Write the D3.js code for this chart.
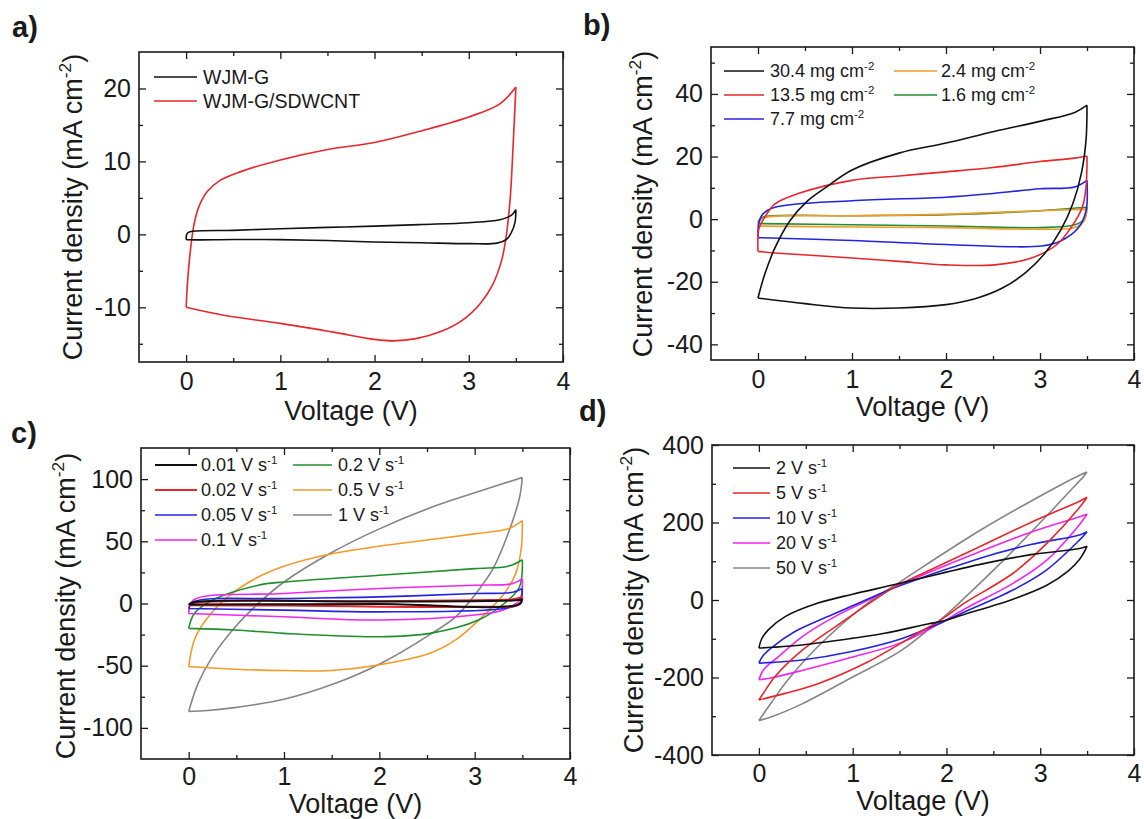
<!DOCTYPE html>
<html>
<head>
<meta charset="utf-8">
<script src="https://cdn.jsdelivr.net/npm/d3@7"></script>
<style>
  body { margin: 0; background: #fff; }
  svg { display: block; }
  text { font-family: "Liberation Sans", Arial, sans-serif; fill: #1a1a1a; }
</style>
</head>
<body>
<svg id="fig" width="1144" height="819"></svg>
<script>
// ---------- data: cyclic voltammograms, [voltage (V), current density (mA cm^-2)] ----------
// Each loop starts at 0 V, sweeps up to 3.5 V and comes back to 0 V.

// (a) electrode comparison
const wjmG = [[0,-0.7],[0.01,0.1],[0.04,0.35],[0.5,0.55],[1,0.77],[1.5,0.95],[2,1.13],[2.5,1.35],[3,1.6],[3.33,2.0],[3.45,2.6],[3.5,3.4],
  [3.49,1.6],[3.45,0.2],[3.4,-0.7],[3.3,-1.2],[3,-1.27],[2.5,-1.15],[2,-1.04],[1.5,-0.85],[1,-0.72],[0.5,-0.7],[0.03,-0.75],[0,-0.7]];
const wjmGSdwcnt = [[0,-10],[0.025,-4.9],[0.08,1.1],[0.13,3.6],[0.22,5.8],[0.36,7.4],[0.58,8.6],[1,10.2],[1.49,11.6],[2,12.6],[2.47,14.1],[3,16.1],[3.33,17.9],[3.5,20.2],
  [3.47,12],[3.44,5],[3.4,0],[3.35,-3.5],[3.25,-7],[3.12,-9.5],[2.93,-11.8],[2.71,-13.3],[2.44,-14.3],[2.2,-14.6],[2,-14.4],[1.56,-13.4],[1,-12.2],[0.4,-11.1],[0,-10]];

// (b) mass loading
const load304 = [[0,-25.2],[0.07,-17.8],[0.18,-9.2],[0.34,-0.5],[0.53,5.9],[0.73,10.3],[1,15.7],[1.5,21.1],[2,24.3],[2.52,28.1],[3.02,31.4],[3.37,34.1],[3.5,36.4],
  [3.49,25.4],[3.44,14.6],[3.35,5],[3.22,-3.5],[3.05,-11],[2.85,-17],[2.6,-22],[2.3,-25.5],[2,-27.3],[1.5,-28.4],[1,-28.4],[0.5,-27],[0,-25.2]];
const load135 = [[0,-10.3],[0.01,-3],[0.07,0.5],[0.18,4.9],[0.42,8.1],[1,12.4],[1.5,13.8],[2,15.1],[2.5,16.5],[3,18.4],[3.37,19.5],[3.5,20.2],
  [3.49,10.3],[3.45,3.8],[3.33,-2.7],[3.18,-8.1],[2.91,-12.4],[2.52,-14.6],[2,-14.6],[1.5,-13.5],[1,-12.4],[0.18,-10.8],[0,-10.3]];
const load77 = [[0,-5.9],[0.01,-1],[0.05,1.6],[0.18,3.8],[1,5.9],[2,7],[2.5,8.2],[3,9.7],[3.37,10.3],[3.5,12.4],
  [3.49,2.7],[3.41,-2.7],[3.22,-7],[3.02,-8.6],[2,-8.1],[1,-6.8],[0,-5.9]];
const load24 = [[0,-2.2],[0.02,-0.5],[0.07,0.5],[1,1.1],[2,1.6],[3,2.7],[3.5,3.2],
  [3.47,-0.5],[3.37,-2.7],[3,-3.2],[2,-2.7],[1,-2.5],[0,-2.2]];
const load16 = [[0,-1.4],[0.02,0],[0.07,0.8],[1,1.1],[2,1.4],[3,2.7],[3.5,3.8],
  [3.47,0],[3.37,-1.8],[3,-2.7],[2,-2.2],[1,-1.8],[0,-1.4]];

// (c) slow scan rates
const scan001 = [[0,-0.8],[0.05,1],[2,1.6],[3.4,2.5],[3.5,3.5],[3.47,-0.5],[2,-0.5],[0,-0.8]];
const scan002 = [[0,-1.5],[0.05,0.5],[2,1.9],[3,2.7],[3.4,3.5],[3.5,5.3],[3.47,-0.5],[3,-2.7],[1,-1.6],[0,-1.5]];
const scan005 = [[0,-4],[0.05,1.3],[1,4],[2,5.3],[3,8],[3.4,9],[3.5,12],[3.47,0],[3.3,-4],[2,-6.7],[1,-5.3],[0,-4]];
const scan01 = [[0,-8],[0.05,2.7],[1,8],[2,12],[3,14.7],[3.4,16],[3.5,20],[3.47,2.7],[3.3,-5.3],[3,-9.3],[2,-13.3],[1,-10.7],[0,-8]];
const scan02 = [[0,-20],[0.06,-8],[0.25,2.7],[0.73,14.7],[1,17.3],[2,22.7],[3,28],[3.35,30],[3.5,35.2],
  [3.47,13.3],[3.31,0],[3.04,-13.3],[2.53,-24],[2,-26.7],[1,-24],[0.49,-21.3],[0,-20]];
const scan05 = [[0,-50.7],[0.06,-29.3],[0.18,-13.3],[0.41,5.3],[0.73,21.3],[1,30],[1.5,40],[2,46],[2.5,51],[3,56],[3.35,60],[3.5,66.7],
  [3.49,45],[3.43,24],[3.31,8],[3.08,-10.7],[2.8,-29.3],[2.53,-40],[2,-49.3],[1.5,-53.9],[1,-53.9],[0.49,-52.8],[0,-50.7]];
const scan1 = [[0,-86.7],[0.1,-64],[0.25,-42.7],[0.49,-18.7],[0.73,0],[1,17.3],[1.5,41],[2,60],[2.5,76],[3,89],[3.5,101.3],
  [3.47,85],[3.35,56],[3.2,29],[3.04,10.7],[2.8,-10.7],[2.53,-25],[2.02,-48],[1.51,-65],[1,-77],[0.5,-83.5],[0.2,-86],[0,-86.7]];

// (d) fast scan rates
const scan2 = [[0,-124],[0.03,-100],[0.1,-77],[0.28,-43],[0.63,-8],[1,15],[1.45,40],[2,72],[2.36,92],[2.9,117],[3.42,133],[3.5,139],
  [3.46,120],[3.42,105],[3.3,75],[3.07,38],[2.71,2],[2.18,-38],[1.95,-55],[1.8,-62],[1.34,-86],[0.99,-99],[0.46,-116],[0.15,-122],[0,-124]];
const scan5 = [[0,-258],[0.05,-240],[0.17,-198],[0.46,-130],[0.81,-70],[1.2,-5],[1.45,34],[1.82,77],[2.36,138],[2.9,200],[3.42,255],[3.5,265],
  [3.44,245],[3.07,146],[2.71,69],[2.18,-10],[1.95,-50],[1.7,-85],[1.16,-160],[0.63,-216],[0.28,-241],[0,-258]];
const scan10 = [[0,-163],[0.04,-145],[0.13,-124],[0.38,-82],[0.81,-35],[1.17,3],[1.45,32],[2.36,108],[2.9,143],[3.42,168],[3.5,176],
  [3.42,155],[3.07,78],[2.71,26],[2.18,-32],[1.95,-58],[1.52,-100],[0.99,-133],[0.46,-155],[0.15,-161],[0,-163]];
const scan20 = [[0,-206],[0.05,-180],[0.21,-146],[0.46,-95],[0.81,-43],[1.24,8],[1.45,33],[2.36,125],[2.9,175],[3.42,215],[3.5,222],
  [3.42,195],[3.07,103],[2.71,43],[2.18,-25],[1.95,-58],[1.52,-110],[0.99,-148],[0.46,-182],[0.15,-200],[0,-206]];
const scan50 = [[0,-311],[0.13,-266],[0.31,-206],[0.63,-120],[1.16,-8],[1.45,38],[1.65,70],[2.36,180],[2.9,255],[3.42,322],[3.5,330],
  [3.46,318],[3.39,300],[3.1,225],[2.64,110],[2.3,30],[2,-38],[1.88,-62],[1.52,-130],[0.99,-200],[0.46,-268],[0.15,-300],[0,-311]];

// ---------- labels and ticks ----------
const legendA = ["WJM-G", "WJM-G/SDWCNT"];
const legendB = ["30.4", "13.5", "7.7", "2.4", "1.6"];      // mg cm^-2
const legendC = ["0.01", "0.02", "0.05", "0.1", "0.2", "0.5", "1"]; // V s^-1
const legendD = ["2", "5", "10", "20", "50"];                 // V s^-1

const voltTicks = [0, 1, 2, 3, 4];
const voltMinor = [0.5, 1.5, 2.5, 3.5];
const yTicksA = [-10, 0, 10, 20],        yMinorA = [-15, -5, 5, 15];
const yTicksB = [-40, -20, 0, 20, 40],   yMinorB = [-30, -10, 10, 30, 50];
const yTicksC = [-100, -50, 0, 50, 100], yMinorC = [-75, -25, 25, 75];
const yTicksD = [-400, -200, 0, 200, 400], yMinorD = [-300, -100, 100, 300];

// ---------- styling ----------
const C = {
  black: "#111111", red: "#e8262b", blue: "#2424e0", magenta: "#f026f0",
  green: "#1f8f2f", orange: "#f39a2a", grey: "#858585"
};
const TICK_FS = 25, TITLE_FS = 27, TAG_FS = 29;

const svg = d3.select("#fig");

// text with an optional superscript part and trailing part
function label(g, x, y, parts, fs, opts = {}) {
  const rot = opts.rotate ? " rotate(-90)" : "";
  const t = g.append("text")
    .attr("transform", `translate(${x},${y})${rot}`)
    .attr("font-size", fs)
    .attr("text-anchor", opts.anchor || "start")
    .attr("dy", opts.dy || "0.35em");
  if (opts.bold) t.attr("font-weight", "bold");
  const sup = fs * 0.64, lift = fs * 0.42;
  parts.forEach((p, i) => {
    const s = t.append("tspan").text(p.t);
    if (p.sup) s.attr("font-size", sup).attr("dy", -lift);
    else if (i > 0 && parts[i - 1].sup) s.attr("dy", lift);
  });
  return t;
}

function drawPanel(cfg) {
  const g = svg.append("g");
  const x = d3.scaleLinear().domain([-0.5, 4]).range([cfg.left, cfg.right]);
  const y = d3.scaleLinear().domain(cfg.yDomain).range([cfg.bottom, cfg.top]);

  const clipId = "clip-" + cfg.tag;
  g.append("clipPath").attr("id", clipId).append("rect")
    .attr("x", cfg.left).attr("y", cfg.top)
    .attr("width", cfg.right - cfg.left).attr("height", cfg.bottom - cfg.top);

  // loops: forward sweep and reverse sweep drawn as separate smooth pieces
  const line = d3.line().x(d => x(d[0])).y(d => y(d[1])).curve(d3.curveCatmullRom.alpha(0.5));
  const curves = g.append("g").attr("clip-path", `url(#${clipId})`);
  cfg.series.slice().reverse().forEach(s => {
    const k = d3.maxIndex(s.data, d => d[0]);
    const dPath = line(s.data.slice(0, k + 1)) + line(s.data.slice(k));
    curves.append("path").attr("d", dPath)
      .attr("fill", "none").attr("stroke", s.color)
      .attr("stroke-width", s.w || 1.6).attr("stroke-linejoin", "round");
  });

  // ticks on all four sides, pointing inward
  const styleAxis = sel => {
    sel.select(".domain").remove();
    sel.attr("font-size", null).attr("font-family", null);
    sel.selectAll(".tick line").attr("stroke", "#1a1a1a").attr("stroke-width", 1.3);
  };
  const noLab = () => "";
  const bottom = g.append("g").attr("transform", `translate(0,${cfg.bottom})`);
  bottom.append("g").call(d3.axisBottom(x).tickValues(voltTicks).tickSize(-7).tickPadding(cfg.xPad).tickFormat(d => String(d))).call(styleAxis);
  bottom.append("g").call(d3.axisBottom(x).tickValues(voltMinor).tickSize(-4).tickFormat(noLab)).call(styleAxis);
  const top = g.append("g").attr("transform", `translate(0,${cfg.top})`);
  top.append("g").call(d3.axisTop(x).tickValues(voltTicks).tickSize(-7).tickFormat(noLab)).call(styleAxis);
  top.append("g").call(d3.axisTop(x).tickValues(voltMinor).tickSize(-4).tickFormat(noLab)).call(styleAxis);
  const left = g.append("g").attr("transform", `translate(${cfg.left},0)`);
  left.append("g").call(d3.axisLeft(y).tickValues(cfg.yTicks).tickSize(-7).tickPadding(8).tickFormat(d => String(d))).call(styleAxis);
  left.append("g").call(d3.axisLeft(y).tickValues(cfg.yMinor).tickSize(-4).tickFormat(noLab)).call(styleAxis);
  const right = g.append("g").attr("transform", `translate(${cfg.right},0)`);
  right.append("g").call(d3.axisRight(y).tickValues(cfg.yTicks).tickSize(-7).tickFormat(noLab)).call(styleAxis);
  right.append("g").call(d3.axisRight(y).tickValues(cfg.yMinor).tickSize(-4).tickFormat(noLab)).call(styleAxis);

  g.selectAll(".tick text").attr("font-size", TICK_FS).attr("fill", "#1a1a1a");

  // frame
  g.append("rect").attr("x", cfg.left).attr("y", cfg.top)
    .attr("width", cfg.right - cfg.left).attr("height", cfg.bottom - cfg.top)
    .attr("fill", "none").attr("stroke", "#1a1a1a").attr("stroke-width", 1.6);

  // axis titles
  label(g, (cfg.left + cfg.right) / 2, cfg.xTitleY, [{ t: "Voltage (V)" }], TITLE_FS, { anchor: "middle", dy: "0" });
  label(g, cfg.yTitleX, cfg.yTitleY,
    [{ t: "Current density (mA cm" }, { t: "-2", sup: true }, { t: ")" }],
    TITLE_FS, { anchor: "middle", rotate: true, dy: "0.35em" });

  // panel tag
  label(g, cfg.tagX, cfg.tagY, [{ t: cfg.tag + ")" }], TAG_FS, { bold: true, dy: "0" });

  // legend
  cfg.series.forEach((s, i) => {
    const pos = cfg.legendPos[i];
    g.append("line").attr("x1", pos.x1).attr("x2", pos.x2).attr("y1", pos.y).attr("y2", pos.y)
      .attr("stroke", s.color).attr("stroke-width", s.w || 1.6);
    label(g, pos.tx, pos.y, s.label, cfg.legendFs, { dy: "0.35em" });
  });
}

const massLabel = v => [{ t: v + " mg cm" }, { t: "-2", sup: true }];
const rateLabel = v => [{ t: v + " V s" }, { t: "-1", sup: true }];
const rows = (x1, x2, tx, ys) => ys.map(y => ({ x1, x2, tx, y }));

drawPanel({
  tag: "a", left: 139, right: 563, top: 52, bottom: 362, yDomain: [-17.5, 25],
  yTicks: yTicksA, yMinor: yMinorA, legendFs: 19.5, xPad: 10,
  xTitleY: 420, yTitleX: 73, yTitleY: 207, tagX: 12, tagY: 37,
  series: [
    { data: wjmG, color: C.black, label: [{ t: legendA[0] }] },
    { data: wjmGSdwcnt, color: C.red, label: [{ t: legendA[1] }] }
  ],
  legendPos: rows(154, 197, 203, [77, 101])
});

drawPanel({
  tag: "b", left: 711, right: 1134, top: 47, bottom: 360, yDomain: [-45, 55],
  yTicks: yTicksB, yMinor: yMinorB, legendFs: 18, xPad: 10,
  xTitleY: 416, yTitleX: 643, yTitleY: 204, tagX: 583, tagY: 35,
  series: [
    { data: load304, color: C.black, label: massLabel(legendB[0]) },
    { data: load135, color: C.red, label: massLabel(legendB[1]) },
    { data: load77, color: C.blue, label: massLabel(legendB[2]) },
    { data: load24, color: C.orange, label: massLabel(legendB[3]) },
    { data: load16, color: C.green, label: massLabel(legendB[4]) }
  ],
  legendPos: [...rows(724, 764, 770, [71, 95, 119]), ...rows(894, 937, 941, [71, 95])]
});

drawPanel({
  tag: "c", left: 141, right: 570, top: 448, bottom: 759, yDomain: [-125, 125],
  yTicks: yTicksC, yMinor: yMinorC, legendFs: 18, xPad: 8,
  xTitleY: 813, yTitleX: 66, yTitleY: 606, tagX: 11, tagY: 443,
  series: [
    { data: scan001, color: C.black, label: rateLabel(legendC[0]), w: 2 },
    { data: scan002, color: C.red, label: rateLabel(legendC[1]), w: 2 },
    { data: scan005, color: C.blue, label: rateLabel(legendC[2]) },
    { data: scan01, color: C.magenta, label: rateLabel(legendC[3]) },
    { data: scan02, color: C.green, label: rateLabel(legendC[4]) },
    { data: scan05, color: C.orange, label: rateLabel(legendC[5]) },
    { data: scan1, color: C.grey, label: rateLabel(legendC[6]) }
  ],
  legendPos: [...rows(155, 197, 201, [465, 490, 515, 540]), ...rows(293, 332, 338, [465, 490, 515])]
});

drawPanel({
  tag: "d", left: 712, right: 1134, top: 445, bottom: 755, yDomain: [-400, 400],
  yTicks: yTicksD, yMinor: yMinorD, legendFs: 18, xPad: 9,
  xTitleY: 810, yTitleX: 634, yTitleY: 600, tagX: 579, tagY: 421,
  series: [
    { data: scan2, color: C.black, label: rateLabel(legendD[0]) },
    { data: scan5, color: C.red, label: rateLabel(legendD[1]) },
    { data: scan10, color: C.blue, label: rateLabel(legendD[2]) },
    { data: scan20, color: C.magenta, label: rateLabel(legendD[3]) },
    { data: scan50, color: C.grey, label: rateLabel(legendD[4]) }
  ],
  legendPos: rows(733, 770, 776, [468, 493, 518, 543, 568])
});
</script>
</body>
</html>
